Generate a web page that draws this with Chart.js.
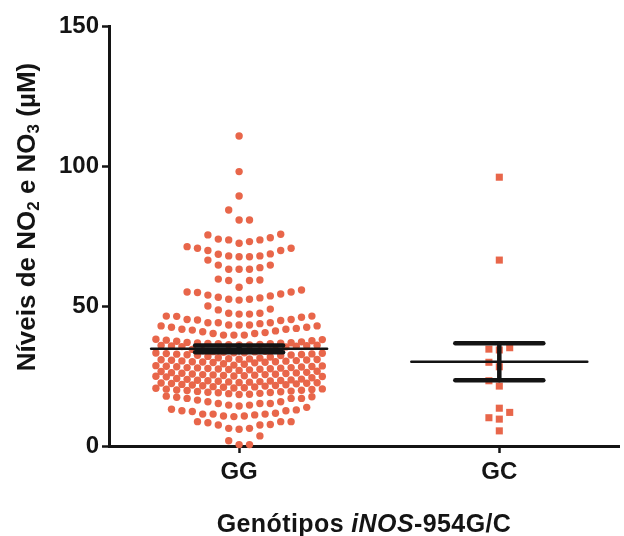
<!DOCTYPE html>
<html>
<head>
<meta charset="utf-8">
<script src="https://cdn.jsdelivr.net/npm/chart.js@4"></script>
<style>
  html, body { margin: 0; padding: 0; background: #fff; }
  #wrap { width: 624px; height: 536px; }
</style>
</head>
<body>
<div id="wrap"><canvas id="chart"></canvas></div>
<script>
/* ========= DATA ========= */

const categories = ["GG", "GC"];

// GG genotype, read row by row from the top of the swarm
const ggValues = [
  110.7, 98.0, 89.3, 84.3, 80.7, 80.7,
  75.4, 73.9, 73.6, 72.4, 73.0, 73.6, 74.4, 75.6,
  70.6, 69.8, 69.8, 70.6, 71.2,
  68.5, 66.4, 67.9, 67.6, 67.6, 67.9, 68.6,
  64.6, 63.1, 63.1, 63.1, 63.7, 64.6,
  59.3, 59.1, 59.1, 59.6, 56.7,
  55.0, 55.0, 53.9, 53.1, 52.4, 52.1, 52.4, 52.9, 53.6, 54.3, 54.8, 55.7,
  48.9, 47.4, 47.1, 47.1, 47.4, 48.6, 50.0,
  46.4, 46.3, 45.2, 44.8, 44.0, 44.0, 43.2, 43.2, 43.2, 43.7, 44.0, 45.0, 45.2, 46.0, 46.4,
  42.9, 42.4, 42.0, 41.7, 41.1, 40.5, 40.2, 39.6, 39.6, 39.6, 40.2, 40.8, 41.4, 41.7, 42.4, 42.9,
  37.6, 37.8, 38.0, 38.1,
  35.4, 35.5, 35.6, 35.7, 35.8, 35.9, 36.0, 36.1, 36.1, 36.2, 36.3, 36.5, 36.5, 36.6, 36.7, 36.8, 36.9, 37.0, 37.2, 37.4,
  32.3, 32.4, 32.5, 32.6, 32.7, 32.8, 32.9, 33.0, 33.1, 33.2, 33.3, 33.3, 33.5, 33.6, 33.7, 33.8, 34.0, 34.3, 34.5,
  29.7, 29.8, 29.9, 30.0, 30.1, 30.1, 30.3, 30.4, 30.5, 30.6, 30.7, 30.8, 30.9, 31.0, 31.1, 31.2, 31.4, 31.5, 31.8, 32.0,
  27.2, 27.3, 27.4, 27.5, 27.6, 27.7, 27.8, 27.9, 28.0, 28.0, 28.2, 28.3, 28.4, 28.5, 28.6, 28.7, 28.9, 29.2, 29.4,
  24.7, 24.8, 24.9, 25.0, 25.1, 25.2, 25.3, 25.4, 25.5, 25.5, 25.6, 25.7, 25.9, 26.0, 26.1, 26.2, 26.3, 26.6, 26.7, 27.0,
  22.2, 22.3, 22.4, 22.5, 22.6, 22.7, 22.8, 22.9, 23.0, 23.1, 23.2, 23.3, 23.4, 23.5, 23.6, 23.8, 23.9, 24.1, 24.4,
  20.3, 20.4, 20.6, 20.7, 20.8, 21.0, 21.1, 21.2, 21.4, 21.5, 21.6, 21.8, 21.9, 22.0,
  18.4, 18.5, 18.7, 18.8, 19.0, 19.1, 19.2, 19.4, 19.5, 19.6, 19.8, 19.9, 20.0, 20.2,
  17.6, 17.0, 17.0, 15.8, 15.2, 15.2, 14.6, 14.3, 14.6, 15.2, 15.8, 16.4, 17.0, 17.4, 17.8,
  13.1, 12.6, 12.3, 11.4, 11.4, 10.7, 10.5, 10.7, 11.1, 11.4, 11.7, 12.6, 12.9, 13.8,
  8.7, 8.7, 7.7, 7.5, 6.3, 6.0, 6.3, 7.5, 8.3, 8.7,
  3.6, 1.9, 0.5, 0.5
];

// GC genotype
const gcValues = [96.0, 66.4, 35.1, 34.6, 34.3, 29.9, 28.3, 23.3, 21.4, 13.5, 12.0, 10.1, 9.6, 5.4];

// mean and SEM bars as drawn in the figure
const meanValues = [34.7, 30.1];
const semValues = [1.2, 6.6];

const yTicks = [0, 50, 100, 150];

/* ========= STYLE ========= */

const DOT = "#E8664A";
const INK = "#141414";
const FONT = "'Liberation Sans', Arial, Helvetica, sans-serif";
const SLOT = 10.4;      // px between neighbours in a row
const ROW_SPAN = 3.6;   // value range gathered into one row

/* ========= SCATTER LAYOUT ========= */

// Prism-style column scatter: sort, gather into rows, lowest value of a
// row sits in the middle and the rest go outwards, alternating sides.
// Full rows alternate 17/16 wide so the dense part comes out staggered.
function rowSlots(values, firstSide) {
  const order = values.map((v, i) => i).sort((p, q) => values[p] - values[q]);
  const rows = [];
  let cur = null;
  order.forEach(i => {
    const cap = (rows.length - 1) % 2 ? 16 : 17;
    if (!cur || values[i] - values[cur[0]] > ROW_SPAN + 1e-6 || cur.length >= cap) {
      cur = [];
      rows.push(cur);
    }
    cur.push(i);
  });
  const slots = new Array(values.length).fill(0);
  rows.forEach(r => {
    // centre only the wide even rows, which gives the half-step stagger
    const shift = r.length >= 14 && r.length % 2 === 0 ? -0.5 * firstSide : 0;
    r.forEach((i, k) => {
      const s = k === 0 ? 0 : (k % 2 ? (k + 1) / 2 : -k / 2);
      slots[i] = s * firstSide + shift;
    });
  });
  return slots;
}

/* ========= OVERLAY: mean/SEM + axis titles ========= */

function seg(ctx, x1, y1, x2, y2) {
  ctx.beginPath();
  ctx.moveTo(x1, y1);
  ctx.lineTo(x2, y2);
  ctx.stroke();
}

function drawPieces(ctx, pieces, cx, cy) {
  let total = 0;
  pieces.forEach(p => { ctx.font = p.font; total += ctx.measureText(p.text).width; });
  let x = cx - total / 2;
  pieces.forEach(p => {
    ctx.font = p.font;
    ctx.fillText(p.text, x, cy + (p.dy || 0));
    x += ctx.measureText(p.text).width;
  });
}

const overlay = {
  id: "overlay",
  afterDatasetsDraw(chart) {
    const { ctx } = chart;
    const { x, y } = chart.scales;
    ctx.save();
    ctx.strokeStyle = INK;
    ctx.lineCap = "round";
    categories.forEach((c, i) => {
      const cx = x.getPixelForValue(i);
      const m = y.getPixelForValue(meanValues[i]);
      const hi = y.getPixelForValue(meanValues[i] + semValues[i]);
      const lo = y.getPixelForValue(meanValues[i] - semValues[i]);
      ctx.lineWidth = 2.5;
      seg(ctx, cx - 88, m, cx + 88, m);
      ctx.lineWidth = 4.5;
      seg(ctx, cx - 44, hi, cx + 44, hi);
      seg(ctx, cx - 44, lo, cx + 44, lo);
      seg(ctx, cx, hi, cx, lo);
    });
    ctx.restore();
  },
  afterDraw(chart) {
    const { ctx, chartArea } = chart;
    ctx.save();
    ctx.fillStyle = INK;
    ctx.textBaseline = "middle";
    ctx.textAlign = "left";

    const big = `bold 26px ${FONT}`;
    const small = `bold 17px ${FONT}`;

    // y title, rotated
    ctx.save();
    ctx.translate(28, 217);
    ctx.rotate(-Math.PI / 2);
    drawPieces(ctx, [
      { text: "Níveis de NO", font: big },
      { text: "2", font: small, dy: 6 },
      { text: " e NO", font: big },
      { text: "3", font: small, dy: 6 },
      { text: " (µM)", font: big }
    ], 0, 0);
    ctx.restore();

    // x title with italic gene name
    const cx = (chartArea.left + chartArea.right) / 2;
    ctx.letterSpacing = "0.4px";
    drawPieces(ctx, [
      { text: "Genótipos ", font: `bold 25px ${FONT}` },
      { text: "iNOS", font: `italic bold 25px ${FONT}` },
      { text: "-954G/C", font: `bold 25px ${FONT}` }
    ], cx, 525);
    ctx.restore();
  }
};

/* ========= CHART ========= */

const chart = new Chart(document.getElementById("chart"), {
  type: "scatter",
  data: {
    datasets: [
      {
        label: categories[0],
        data: ggValues.map(v => ({ x: 0, y: v })),
        pointStyle: "circle",
        pointRadius: 3.7,
        pointBackgroundColor: DOT,
        pointBorderWidth: 0,
        clip: false
      },
      {
        label: categories[1],
        data: gcValues.map(v => ({ x: 1, y: v })),
        pointStyle: "rect",
        pointRadius: 5,
        pointBackgroundColor: DOT,
        pointBorderWidth: 0,
        clip: false
      }
    ]
  },
  options: {
    responsive: true,
    maintainAspectRatio: false,
    animation: false,
    events: [],
    layout: { padding: { top: 26, right: 4, left: 0, bottom: 0 } },
    plugins: {
      legend: { display: false },
      tooltip: { enabled: false }
    },
    scales: {
      x: {
        type: "linear",
        min: -0.5,
        max: 1.46,
        afterBuildTicks: s => { s.ticks = categories.map((c, i) => ({ value: i })); },
        afterFit: s => { s.height = 90; },
        ticks: {
          callback: v => categories[v],
          color: INK,
          padding: 5,
          font: { family: FONT, size: 24, weight: "bold" }
        },
        grid: { drawOnChartArea: false, tickLength: 7, tickWidth: 2.5, tickColor: INK },
        border: { color: INK, width: 3 }
      },
      y: {
        min: 0,
        max: 150,
        afterBuildTicks: s => { s.ticks = yTicks.map(v => ({ value: v })); },
        afterFit: s => { s.width = 109; },
        ticks: {
          color: INK,
          padding: 3,
          font: { family: FONT, size: 24, weight: "bold" }
        },
        grid: { drawOnChartArea: false, tickLength: 7, tickWidth: 2.5, tickColor: INK },
        border: { color: INK, width: 3 }
      }
    }
  },
  plugins: [overlay]
});

// spread the points sideways once the x scale is known
(function applyLayout() {
  const x = chart.scales.x;
  const pxPerUnit = x.getPixelForValue(1) - x.getPixelForValue(0);
  const groups = [ggValues, gcValues];
  const sides = [1, -1];
  chart.data.datasets.forEach((ds, i) => {
    const slots = rowSlots(groups[i], sides[i]);
    ds.data = groups[i].map((v, k) => ({ x: i + slots[k] * SLOT / pxPerUnit, y: v }));
  });
  chart.update("none");
})();
</script>
</body>
</html>
